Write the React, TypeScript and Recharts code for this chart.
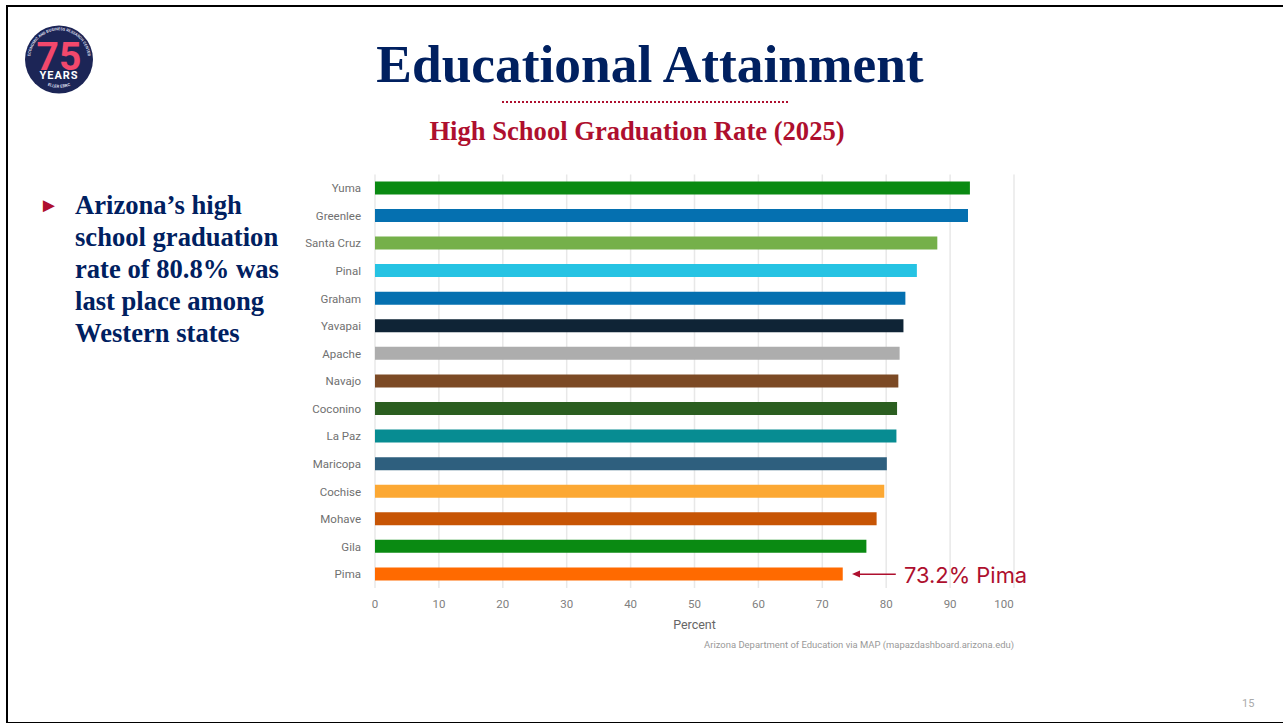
import React from 'react';
import { BarChart, Bar, XAxis, YAxis, CartesianGrid, Cell, ReferenceLine, Label } from 'recharts';

const counties = ['Yuma','Greenlee','Santa Cruz','Pinal','Graham','Yavapai','Apache','Navajo','Coconino','La Paz','Maricopa','Cochise','Mohave','Gila','Pima'];
const rates = [93.1,92.8,88.0,84.8,83.0,82.7,82.1,81.9,81.7,81.6,80.1,79.7,78.5,76.9,73.2];
const barColors = ['#0a8a12','#0570b0','#75b04a','#26c3e3','#0570b0','#0f2436','#adadad','#7c4a25','#2b5e20','#078c92','#2e5f7e','#fca833','#c75505','#0a8a12','#ff6a00'];
const percentTicks = [0,10,20,30,40,50,60,70,80,90,100];
const bulletLines = ['Arizona’s high','school graduation','rate of 80.8% was','last place among','Western states'];
const data = counties.map((county, i) => ({ county, rate: rates[i] }));

const NAVY = '#002060';
const RED = '#ae0f2e';
const SERIF = '"Liberation Serif", serif';
const SANS = 'Roboto, "Open Sans", sans-serif';

const XTick = (props: any) => {
  const { x, y, payload } = props;
  const dx = payload.value === 100 ? -10 : 0;
  return <text x={x + dx} y={y + 12} textAnchor="middle" fontFamily={SANS} fontSize={11.5} fill="#808080">{payload.value}</text>;
};

const Logo = () => (
  <svg style={{ position: 'absolute', left: 25, top: 25 }} width={68} height={70} viewBox="0 0 68 70">
    <defs><path id="arcTop" d="M 9 49 A 29 29 0 1 1 59 49" /><path id="arcBot" d="M 15 56 A 30 30 0 0 0 53 56" /></defs>
    <circle cx={34} cy={34.5} r={34} fill="#1c2556" />
    <text fontFamily={SANS} fontSize={3.9} fontWeight={700} fill="#d9dbe8"><textPath href="#arcTop" startOffset="50%" textAnchor="middle">ECONOMIC AND BUSINESS RESEARCH CENTER</textPath></text>
    <text x={34} y={45} textAnchor="middle" fontFamily={SANS} fontSize={39} fontWeight={700} fill="#f2486c">75</text>
    <text x={34} y={53.5} textAnchor="middle" fontFamily={SANS} fontSize={11} fontWeight={700} fill="#fff" letterSpacing={1}>YEARS</text>
    <text fontFamily={SANS} fontSize={4.2} fontWeight={700} fill="#d9dbe8"><textPath href="#arcBot" startOffset="50%" textAnchor="middle">ELLER EBRC</textPath></text>
  </svg>
);

export default function App() {
  return (
    <div style={{ position: 'absolute', left: 0, top: 0, width: 1283, height: 723, background: '#fff', overflow: 'hidden' }}>
      <div style={{ position: 'absolute', left: 6, top: 5, width: 1290, height: 715, borderLeft: '2px solid #000', borderTop: '2px solid #000', borderBottom: '2px solid #000' }} />
      <Logo />
      <div style={{ position: 'absolute', left: 250, width: 800, top: 33, textAlign: 'center', fontFamily: SERIF, fontWeight: 700, fontSize: 53.4, lineHeight: '62px', color: NAVY }}>Educational Attainment</div>
      <div style={{ position: 'absolute', left: 502, width: 286, top: 101, borderTop: `2px dotted ${RED}` }} />
      <div style={{ position: 'absolute', left: 337, width: 600, top: 115, textAlign: 'center', fontFamily: SERIF, fontWeight: 700, fontSize: 26.6, lineHeight: '32px', color: RED }}>High School Graduation Rate (2025)</div>
      <div style={{ position: 'absolute', left: 39, top: 195, fontSize: 20, lineHeight: '20px', color: RED, fontFamily: SANS }}>►</div>
      <div style={{ position: 'absolute', left: 75, top: 189, fontFamily: SERIF, fontWeight: 700, fontSize: 26.6, lineHeight: '32px', color: NAVY, whiteSpace: 'nowrap' }}>
        {bulletLines.map((l) => <div key={l}>{l}</div>)}
      </div>
      <div style={{ position: 'absolute', left: 0, top: 0 }}>
        <BarChart width={1283} height={723} data={data} layout="vertical" barCategoryGap={0}
          margin={{ top: 174.4, right: 269, bottom: 90, left: 295 }}>
          <CartesianGrid horizontal={false} stroke="#e8e8e8" strokeWidth={1.5} />
          <XAxis type="number" domain={[0, 100]} ticks={percentTicks} tick={<XTick />} axisLine={false} tickLine={false} height={45}>
            <Label value="Percent" position="insideBottom" offset={4} fontFamily={SANS} fontSize={12.5} fill="#666" dx={0} />
          </XAxis>
          <YAxis type="category" dataKey="county" width={80} axisLine={false} tickLine={false} interval={0} tickMargin={8}
            tick={{ fontFamily: SANS, fontSize: 11.5, fill: '#707070' }} />
          <Bar dataKey="rate" barSize={13} isAnimationActive={false}>
            {data.map((d, i) => <Cell key={d.county} fill={barColors[i]} />)}
          </Bar>
          <ReferenceLine segment={[{ x: 81.5, y: 'Pima' }, { x: 75.2, y: 'Pima' }]} stroke={RED} strokeWidth={1.5} />
        </BarChart>
      </div>
      <svg style={{ position: 'absolute', left: 845, top: 565 }} width={20} height={20}>
        <polygon points="7,9 15,5.5 15,12.5" fill={RED} />
      </svg>
      <div style={{ position: 'absolute', left: 904, top: 561, fontFamily: 'Inter, sans-serif', fontSize: 21.9, lineHeight: '28px', color: RED, whiteSpace: 'nowrap' }}>73.2% Pima</div>
      <div style={{ position: 'absolute', right: 269, top: 638, fontFamily: SANS, fontSize: 9.45, lineHeight: '13px', color: '#999', whiteSpace: 'nowrap' }}>Arizona Department of Education via MAP (mapazdashboard.arizona.edu)</div>
      <div style={{ position: 'absolute', left: 1242, top: 697, fontFamily: SANS, fontSize: 11, lineHeight: '14px', color: '#aaa' }}>15</div>
    </div>
  );
}
